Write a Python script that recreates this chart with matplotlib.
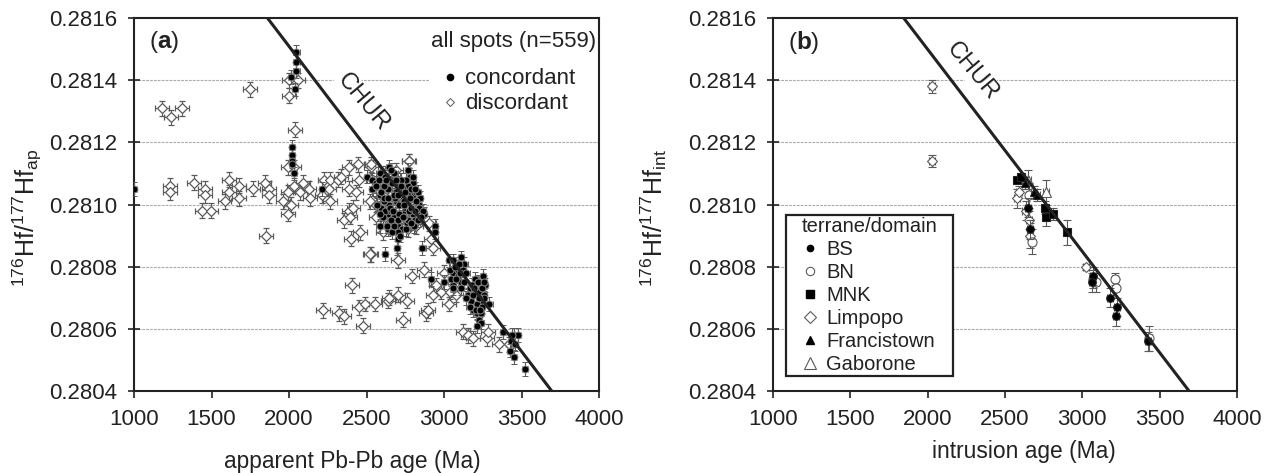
import matplotlib
matplotlib.use("Agg")
import matplotlib.pyplot as plt
from matplotlib.lines import Line2D

plt.rcParams.update({
    'font.family': ['Liberation Sans', 'DejaVu Sans'],
    'mathtext.fontset': 'custom',
    'mathtext.rm': 'Liberation Sans',
    'mathtext.bf': 'Liberation Sans:bold',
    'mathtext.default': 'regular',
    'text.color': '#222222',
    'axes.labelcolor': '#222222',
})

# Panel (a): concordant spots
conc_age = [1000, 2048, 2048, 2048, 2015, 2040, 2017, 2017, 2017, 2017, 2030, 2215,
            2502, 2536, 2584, 2644, 2680, 2622, 2717, 2766, 2799, 2540, 2584, 2637, 2702, 2766,
            2702, 2799, 2842, 2691, 2766, 2594, 2648, 2712, 2766, 2837, 2637, 2680, 2751, 2799,
            2869, 2652, 2702, 2760, 2816, 2584, 2730, 2702, 2702, 2695, 2940, 2940, 2857, 2618,
            3031, 3057, 3112, 3132, 3057, 3089, 2917, 3003, 3057, 3110, 3132, 3203, 3250, 3265,
            3200, 3110, 3153, 3207, 3239, 3175, 3233, 3293, 3213, 3239, 3228, 3239, 3383, 3454,
            3433, 3476, 3426, 3450, 3523,
            2560, 2610, 2665, 2735, 2780, 2615, 2670, 2735, 2820, 2620, 2735, 2790, 2660, 2775,
            2850, 2570, 2640, 2725, 3075, 3090, 3170, 3225, 3185, 3260, 3440, 3460,
            2536, 2583, 2626, 2701, 2755, 2798, 2691, 2830, 2686, 2744, 2841, 2787, 2863, 2734,
            2652, 2615, 2594, 2563, 2608, 2655, 2725, 2748, 2810, 2822, 2778, 2660, 2692, 2720,
            2745, 2770, 2805, 2835, 2640, 2672, 2712, 2758, 2790, 2665, 2700, 2740, 2590, 2630,
            2675, 2705, 2785, 2815, 2850, 2680, 2715, 2735,
            3040, 3070, 3095, 3120, 3045, 3075, 3105, 3060, 3145, 3180, 3220, 3245, 3190, 3215,
            3255, 3140, 3165, 3195, 3225, 3260, 3205, 3245, 3215, 3230]
conc_hf = [.28105, .28149, .28146, .28143, .28141, .28137, .281185, .28116, .28114, .28113, .28110, .28105,
           .28109, .28108, .28110, .28112, .28110, .28109, .28108, .28111, .28107, .28105, .28103, .28105, .28106, .28106,
           .28104, .28103, .28102, .28101, .28103, .28099, .28100, .28100, .28100, .28100, .28097, .28096, .28098, .28097,
           .28097, .28094, .28093, .28094, .28095, .28093, .28092, .28091, .28089, .28086, .28093, .28091, .28086, .28084,
           .28082, .28082, .28083, .28081, .28078, .28077, .28076, .28075, .28074, .28075, .28075, .28076, .28077, .28074,
           .28074, .28073, .28071, .28071, .28070, .28069, .28068, .28068, .28065, .28065, .28063, .28062, .28059, .28058,
           .28056, .28058, .28053, .28051, .28047,
           .28107, .28106, .28107, .28105, .28109, .28101, .28102, .28102, .28104, .28098, .28096, .28099, .28098, .28098,
           .28098, .28100, .28092, .28096, .28080, .28079, .28073, .28072, .28066, .28071, .28058, .28055,
           .28105, .28108, .28108, .28107, .28108, .28109, .28104, .28104, .28102, .28101, .28099, .28105, .28098, .28097,
           .28099, .28102, .28104, .28106, .28096, .28095, .28108, .28104, .28105, .28101, .28102, .28111, .28108, .28106,
           .28100, .28095, .28093, .28095, .28102, .28098, .28097, .28092, .28094, .28091, .28095, .28096, .28097, .28093,
           .28103, .28103, .28099, .28098, .28096, .28093, .28090, .28096,
           .28079, .28080, .28081, .28079, .28076, .28076, .28078, .28073, .28078, .28074, .28075, .28073, .28071, .28068,
           .28070, .28070, .28067, .28073, .28070, .28075, .28066, .28067, .28061, .28066]

# Panel (a): discordant spots
disc_age = [1233, 1233, 1390, 1455, 1455, 1440, 1498, 1584, 1610, 1610, 1676, 1680, 1767, 1842, 1874, 1870, 1852,
            1960, 1992, 2014, 1992, 2035, 2068, 2089, 2132, 2138, 2214, 2229, 2267, 2261, 2267, 2315, 2336, 2386,
            2444, 2390, 2433, 2454, 2530, 2523, 2390, 2416, 2353, 2396, 2461, 2401, 2530, 2405, 2218, 2325, 2358,
            2454, 2493, 2558, 2476, 2637, 1182, 1240, 1311, 1749, 1999, 2057, 2003, 2040, 2035, 1992, 2771,
            2523, 2702, 2794, 2874, 2932, 2917, 2648, 2702, 2760, 2738, 2885, 2895, 2927, 2949, 3003, 2981,
            3031, 3078, 3039, 3121, 3153, 3190, 3276, 3282, 3353, 3422, 2530, 2773, 2562, 2605, 2766, 2820, 2906,
            2600, 2660, 2710, 2780, 2840, 2560, 2640, 2700, 2760, 2810, 2620, 2690, 2750]
disc_hf = [.28106, .28104, .28107, .28105, .28103, .28098, .28098, .28101, .28104, .28108, .28106, .28102, .28105, .28107, .28105, .28103, .28090,
           .28101, .28104, .28100, .28097, .28106, .28104, .28107, .28105, .28102, .28103, .28108, .28108, .28105, .28101, .28108, .28109, .28112,
           .28113, .28105, .28104, .28108, .28112, .28101, .28098, .28099, .28095, .28096, .28091, .28089, .28084, .28074, .28066, .28065, .28064,
           .28067, .28068, .28068, .28061, .28069, .28131, .28128, .28131, .28137, .28140, .28140, .28135, .28124, .28112, .28112, .28114,
           .28084, .28082, .28077, .28079, .28086, .28089, .28070, .28071, .28069, .28063, .28065, .28066, .28071, .28074, .28078, .28072,
           .28068, .28071, .28072, .28059, .28058, .28057, .28057, .28059, .28055, .28055, .28113, .28114, .28096, .28091, .28092, .28093, .28094,
           .28106, .28103, .28099, .28101, .28098, .28100, .28095, .28095, .28097, .28099, .28110, .28111, .28105]

# Panel (b): terrane / domain samples: age, Hf, Hf error
bs_age = [2651, 2661, 3071, 3061, 3179, 3222, 3218, 3425]
bs_hf = [.28099, .28092, .28077, .28075, .28070, .28067, .28064, .28056]
bs_err = [.00003, .00003, .00003, .00003, .00003, .00003, .00003, .00003]

bn_age = [2677, 2655, 3071, 3086, 3212, 3216, 3430]
bn_hf = [.28088, .28103, .28076, .28075, .28076, .28073, .28057]
bn_err = [.00004, .00004, .00003, .00003, .00002, .00003, .00004]

mnk_age = [2580, 2605, 2759, 2765, 2808, 2903]
mnk_hf = [.28108, .28109, .28099, .28096, .28097, .28091]
mnk_err = [.00001, .00001, .00002, .00003, .00002, .00004]

limp_age = [2030, 2030, 2575, 2590, 2633, 2657, 3024, 2660]
limp_hf = [.28138, .28114, .28102, .28104, .28098, .28095, .28080, .28090]
limp_err = [.00002, .00002, .00003, .00002, .00003, .00003, .00001, .00004]

fran_age = [2629, 2687, 2705]
fran_hf = [.28107, .28104, .28103]
fran_err = [.00002, .00002, .00002]

gab_age = [2765, 2651]
gab_hf = [.28104, .28108]
gab_err = [.00004, .00003]

legend_b = ['BS', 'BN', 'MNK', 'Limpopo', 'Francistown', 'Gaborone']
x_ticks = [1000, 1500, 2000, 2500, 3000, 3500, 4000]
y_ticks = [.2804, .2806, .2808, .2810, .2812, .2814, .2816]
grid_y = [.2806, .2808, .2810, .2812, .2814]
chur_age_a = [1861, 3695]
chur_age_b = [1845, 3690]
chur_hf = [.2816, .2804]

W, H = 1273, 473
fig = plt.figure(figsize=(W / 100, H / 100), dpi=100)
ax1 = fig.add_axes([134 / W, (H - 391) / H, 465 / W, 373 / H])
ax2 = fig.add_axes([773 / W, (H - 391) / H, 464 / W, 373 / H])

EC = '#5a5a5a'
DK = '#222222'

for ax in (ax1, ax2):
    ax.set_xlim(1000, 4000)
    ax.set_ylim(.2804, .2816)
    ax.set_xticks(x_ticks)
    ax.set_yticks(y_ticks)
    ax.set_yticklabels([f'{v:.4f}' for v in y_ticks])
    ax.tick_params(axis='x', direction='out', length=5, width=1.2, labelsize=16, pad=8, color=DK, labelcolor=DK)
    ax.tick_params(axis='y', direction='inout', length=8, width=1.2, labelsize=16, pad=8, color=DK, labelcolor=DK)
    for s in ax.spines.values():
        s.set_linewidth(1.5)
        s.set_color(DK)
    for g in grid_y:
        ax.axhline(g, color='#aaaaaa', lw=0.8, ls=(0, (2.5, 1)), zorder=1)

# Panel (a)
ax1.errorbar(disc_age, disc_hf, xerr=45, yerr=.000024, fmt='D', ms=4.8, mfc='white', mec=EC, mew=0.9,
             ecolor=EC, elinewidth=0.8, capsize=2.5, capthick=0.8, zorder=3)
ax1.errorbar(conc_age, conc_hf, xerr=20, yerr=.000022, fmt='o', ms=5.0, mfc='black', mec='#8a8a8a', mew=0.7,
             ecolor=EC, elinewidth=0.8, capsize=2.5, capthick=0.8, zorder=4)
ax1.plot(chur_age_a, chur_hf, color=DK, lw=2.2, zorder=5)
ax1.text(2480, .28133, 'CHUR', rotation=-50, ha='center', va='center', fontsize=17, rotation_mode='anchor',
         bbox=dict(fc='white', ec='none', pad=1), zorder=2)
ax1.text(0.033, 0.935, r'($\mathbf{a}$)', transform=ax1.transAxes, fontsize=17.5, va='center')
ax1.set_xlabel('apparent Pb-Pb age (Ma)', fontsize=16.4, va='top')
ax1.xaxis.set_label_coords(0.469, -0.158)
ax1.set_ylabel(r'$^{176}$Hf/$^{177}$Hf$_{ap}$', fontsize=18)
ax1.yaxis.set_label_coords(-0.194, 0.464)
h_a = [Line2D([], [], ls='', marker='o', ms=4.5, mfc='black', mec='black'),
       Line2D([], [], ls='', marker='D', ms=4, mfc='white', mec=EC, mew=0.7)]
leg1 = ax1.legend(h_a, ['concordant', 'discordant'], title='all spots (n=559)', loc='upper right',
                  bbox_to_anchor=(0.998, 0.972), fontsize=16, title_fontsize=16, frameon=True,
                  facecolor='white', edgecolor='none', framealpha=1, borderpad=0.1, borderaxespad=0,
                  handletextpad=-0.17, handlelength=1.7, labelspacing=0.18, alignment='left')
leg1._legend_box.sep = 12
leg1.set_zorder(2)

# Panel (b)
def series(x, y, e, marker, ms, fc, ec, z):
    ax2.errorbar(x, y, xerr=20, yerr=e, fmt=marker, ms=ms, mfc=fc, mec=ec, mew=0.8,
                 ecolor=EC, elinewidth=0.8, capsize=3, capthick=0.8, zorder=z)

series(limp_age, limp_hf, limp_err, 'D', 5.5, 'white', EC, 3)
series(bn_age, bn_hf, bn_err, 'o', 6.5, 'white', EC, 3)
series(gab_age, gab_hf, gab_err, '^', 7, 'white', EC, 3)
series(bs_age, bs_hf, bs_err, 'o', 5.5, 'black', '#222222', 4)
series(mnk_age, mnk_hf, mnk_err, 's', 5.5, 'black', '#222222', 4)
series(fran_age, fran_hf, fran_err, '^', 5.5, 'black', '#222222', 4)
ax2.plot(chur_age_b, chur_hf, color=DK, lw=2.2, zorder=5)
ax2.text(2290, .28143, 'CHUR', rotation=-50, ha='center', va='center', fontsize=17, rotation_mode='anchor',
         bbox=dict(fc='white', ec='none', pad=1), zorder=2)
ax2.text(0.033, 0.935, r'($\mathbf{b}$)', transform=ax2.transAxes, fontsize=17.5, va='center')
ax2.set_xlabel('intrusion age (Ma)', fontsize=16.4, va='top')
ax2.xaxis.set_label_coords(0.541, -0.131)
ax2.set_ylabel(r'$^{176}$Hf/$^{177}$Hf$_{int}$', fontsize=18)
ax2.yaxis.set_label_coords(-0.224, 0.464)
h_b = [Line2D([], [], ls='', marker='o', ms=4.5, mfc='black', mec='black'),
       Line2D([], [], ls='', marker='o', ms=6, mfc='white', mec=EC, mew=0.8),
       Line2D([], [], ls='', marker='s', ms=5.5, mfc='black', mec='black'),
       Line2D([], [], ls='', marker='D', ms=6, mfc='white', mec=EC, mew=0.8),
       Line2D([], [], ls='', marker='^', ms=5.5, mfc='black', mec='black'),
       Line2D([], [], ls='', marker='^', ms=8.5, mfc='white', mec=EC, mew=0.8)]
leg2 = ax2.legend(h_b, legend_b, title='terrane/domain', loc='lower left',
                  bbox_to_anchor=(13 / 464, 15 / 373, 167 / 464, 160 / 373), mode='expand',
                  fontsize=14.5, title_fontsize=14.5, frameon=True,
                  facecolor='white', edgecolor=DK, framealpha=1, fancybox=False, borderpad=0.1, borderaxespad=0,
                  handletextpad=-0.3, handlelength=2.2, labelspacing=0.2)
leg2.get_frame().set_linewidth(1.6)
leg2.set_zorder(6)

fig.savefig('out.png', dpi=100)
